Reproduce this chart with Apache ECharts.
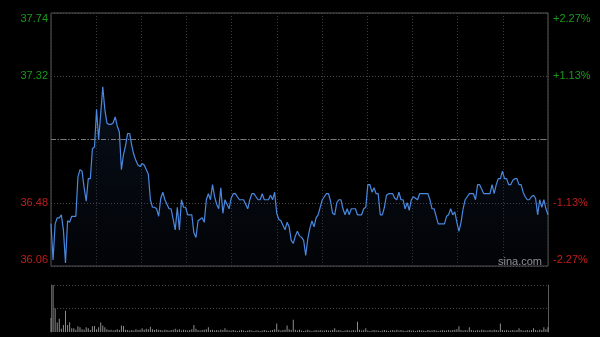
<!DOCTYPE html>
<html><head><meta charset="utf-8">
<script src="https://cdn.jsdelivr.net/npm/echarts@6/dist/echarts.min.js"></script>
<style>html,body{margin:0;padding:0;background:#000;}#c{width:600px;height:337px;}</style>
</head><body><div id="c"></div>
<script>
// ---- data ----
const prevClose = 36.90;
const priceTicks = [36.06, 36.48, 36.90, 37.32, 37.74];
const priceLabels = ['36.06', '36.48', '', '37.32', '37.74'];
const pctLabels = ['-2.27%', '-1.13%', '', '+1.13%', '+2.27%'];
const prices = [
36.34,36.10,36.34,36.38,36.38,36.40,36.30,36.08,36.36,36.35,
36.39,36.39,36.39,36.65,36.70,36.69,36.58,36.49,36.64,36.64,
36.84,36.85,37.10,36.90,37.07,37.25,37.10,37.01,37.00,37.00,
37.01,37.05,36.99,36.95,36.70,36.80,36.86,36.94,36.94,36.86,
36.80,36.76,36.73,36.72,36.74,36.73,36.70,36.67,36.50,36.45,
36.45,36.44,36.39,36.51,36.55,36.50,36.47,36.44,36.44,36.37,
36.30,36.45,36.30,36.50,36.45,36.45,36.40,36.40,36.40,36.28,
36.25,36.36,36.37,36.38,36.35,36.50,36.54,36.50,36.60,36.52,
36.47,36.44,36.58,36.41,36.50,36.47,36.44,36.51,36.54,36.54,
36.52,36.50,36.50,36.50,36.47,36.44,36.50,36.54,36.54,36.52,
36.50,36.50,36.54,36.50,36.50,36.50,36.53,36.50,36.55,36.41,
36.37,36.36,36.33,36.30,36.35,36.32,36.23,36.21,36.26,36.29,
36.26,36.25,36.23,36.13,36.24,36.31,36.36,36.32,36.38,36.40,
36.45,36.50,36.52,36.54,36.54,36.49,36.41,36.40,36.48,36.50,
36.50,36.44,36.40,36.44,36.40,36.44,36.44,36.44,36.40,36.40,
36.40,36.44,36.45,36.60,36.60,36.55,36.58,36.54,36.54,36.40,
36.40,36.45,36.53,36.54,36.54,36.54,36.51,36.50,36.55,36.50,
36.50,36.44,36.48,36.43,36.50,36.52,36.51,36.50,36.54,36.54,
36.54,36.54,36.54,36.50,36.44,36.44,36.39,36.34,36.34,36.34,
36.34,36.39,36.40,36.44,36.40,36.42,36.35,36.29,36.35,36.44,
36.50,36.52,36.54,36.54,36.54,36.50,36.60,36.60,36.57,36.54,
36.54,36.54,36.54,36.60,36.54,36.60,36.64,36.64,36.69,36.64,
36.64,36.60,36.60,36.63,36.64,36.64,36.60,36.60,36.55,36.52,
36.50,36.50,36.52,36.53,36.51,36.40,36.50,36.45,36.50,36.44,
36.40
];
const volumes = [
300,1000,500,200,280,70,150,450,150,210,80,80,50,120,100,60,50,100,80,40,
120,130,60,100,200,140,100,60,40,50,30,40,60,40,140,130,50,40,30,40,
30,60,40,50,80,50,70,60,110,60,40,60,50,40,30,50,40,30,40,50,
70,50,60,30,50,40,30,40,60,150,70,40,30,40,50,60,100,40,50,30,
40,30,50,40,80,40,30,30,40,30,20,30,40,30,20,30,40,30,20,30,
30,20,30,40,30,20,30,40,60,180,50,30,40,50,140,60,40,260,50,30,
50,30,20,30,50,30,20,30,40,30,40,30,30,40,30,30,40,80,30,40,
30,20,30,40,30,30,40,30,220,50,30,40,80,30,20,30,40,30,30,20,
30,40,30,20,30,40,30,50,30,40,30,20,30,40,30,30,20,30,40,30,
30,20,40,30,30,40,30,20,30,40,30,30,40,30,40,50,60,120,40,30,
40,30,100,40,30,30,40,30,50,40,30,30,40,30,50,40,30,180,40,30,
40,30,30,40,30,40,80,40,30,30,40,30,40,80,40,30,50,40,100,60,
100
];
const volMax = 1000;

// ---- chart ----
const r2 = v => Math.round(v * 100) / 100;
const yMin = r2(priceTicks[0] - prevClose);
const yMax = r2(priceTicks[priceTicks.length - 1] - prevClose);
const yStep = r2(priceTicks[1] - priceTicks[0]);
const nPts = prices.length - 1;
const tickIdx = v => Math.round((v - yMin) / yStep);
const GREEN = '#1a9a1a', RED = '#c21d1d';
const FONT = 'Liberation Sans, Arial, sans-serif';
const rich = {
  gt: {color: GREEN, fontSize: 11, fontFamily: FONT, padding: [12, 0, 0, 0]},
  g: {color: GREEN, fontSize: 11, fontFamily: FONT},
  r: {color: RED, fontSize: 11, fontFamily: FONT},
  rb: {color: RED, fontSize: 11, fontFamily: FONT, padding: [0, 0, 12, 0]}
};
function styled(labels) {
  return function (v) {
    const k = tickIdx(v);
    const t = labels[k];
    if (!t) return '';
    const last = labels.length - 1;
    const s = k === last ? 'gt' : (k === 0 ? 'rb' : (k > 2 ? 'g' : 'r'));
    return '{' + s + '|' + t + '}';
  };
}

const chart = echarts.init(document.getElementById('c'));
chart.setOption({
  backgroundColor: '#000',
  animation: false,
  grid: [
    {left: 51, right: 52, top: 13, bottom: 71, show: true, borderColor: '#5a5a5a', borderWidth: 1, backgroundColor: 'transparent'},
    {left: 51, right: 52, top: 285, bottom: 5, show: false}
  ],
  xAxis: [
    {type: 'value', gridIndex: 0, min: 0, max: nPts, interval: nPts / 11,
     axisLine: {show: false}, axisTick: {show: false}, axisLabel: {show: false},
     splitLine: {show: true, lineStyle: {color: '#3a3a3a', type: [1, 2], width: 1}}},
    {type: 'value', gridIndex: 1, min: 0, max: nPts,
     axisLine: {show: false}, axisTick: {show: false}, axisLabel: {show: false}, splitLine: {show: false}}
  ],
  yAxis: [
    {type: 'value', gridIndex: 0, position: 'left', min: yMin, max: yMax, interval: yStep,
     axisLine: {show: false}, axisTick: {show: false},
     axisLabel: {margin: 3, formatter: styled(priceLabels), rich: rich},
     splitLine: {show: true, lineStyle: {color: '#4a4a4a', type: [1, 2], width: 1}}},
    {type: 'value', gridIndex: 0, position: 'right', min: yMin, max: yMax, interval: yStep,
     axisLine: {show: false}, axisTick: {show: false},
     axisLabel: {margin: 5, formatter: styled(pctLabels), rich: rich},
     splitLine: {show: false}},
    {type: 'value', gridIndex: 1, position: 'left', min: 0, max: volMax, interval: volMax / 2,
     axisLine: {show: true, lineStyle: {color: '#5a5a5a', width: 1}}, axisTick: {show: false}, axisLabel: {show: false},
     splitLine: {show: true, lineStyle: {color: ['rgba(0,0,0,0)', '#4a4a4a', '#4a4a4a'], type: [1, 2], width: 1}}},
    {type: 'value', gridIndex: 1, position: 'right', min: 0, max: volMax,
     axisLine: {show: true, lineStyle: {color: '#5a5a5a', width: 1}}, axisTick: {show: false}, axisLabel: {show: false},
     splitLine: {show: false}}
  ],
  series: [
    {type: 'line', xAxisIndex: 0, yAxisIndex: 0, symbol: 'none', smooth: false,
     data: prices.map((p, i) => [i, r2(p - prevClose)]),
     lineStyle: {color: '#4a88e0', width: 1.2},
     areaStyle: {origin: 'start', color: new echarts.graphic.LinearGradient(0, 0, 0, 1, [
       {offset: 0, color: 'rgba(28,52,92,0.45)'},
       {offset: 1, color: 'rgba(12,22,40,0.25)'}
     ])},
     markLine: {silent: true, symbol: 'none', label: {show: false},
       lineStyle: {color: '#7a7a7a', type: [5, 2, 1, 2], width: 1},
       data: [{yAxis: 0}]}
    },
    {type: 'bar', xAxisIndex: 1, yAxisIndex: 2, barWidth: 1,
     data: volumes.map((v, i) => [i, v]),
     itemStyle: {color: '#8c8c8c'}}
  ],
  graphic: [
    {type: 'text', left: 498, top: 256, style: {text: 'sina.com', fill: '#a8a8a8', font: '11px ' + FONT}}
  ]
});
</script></body></html>
